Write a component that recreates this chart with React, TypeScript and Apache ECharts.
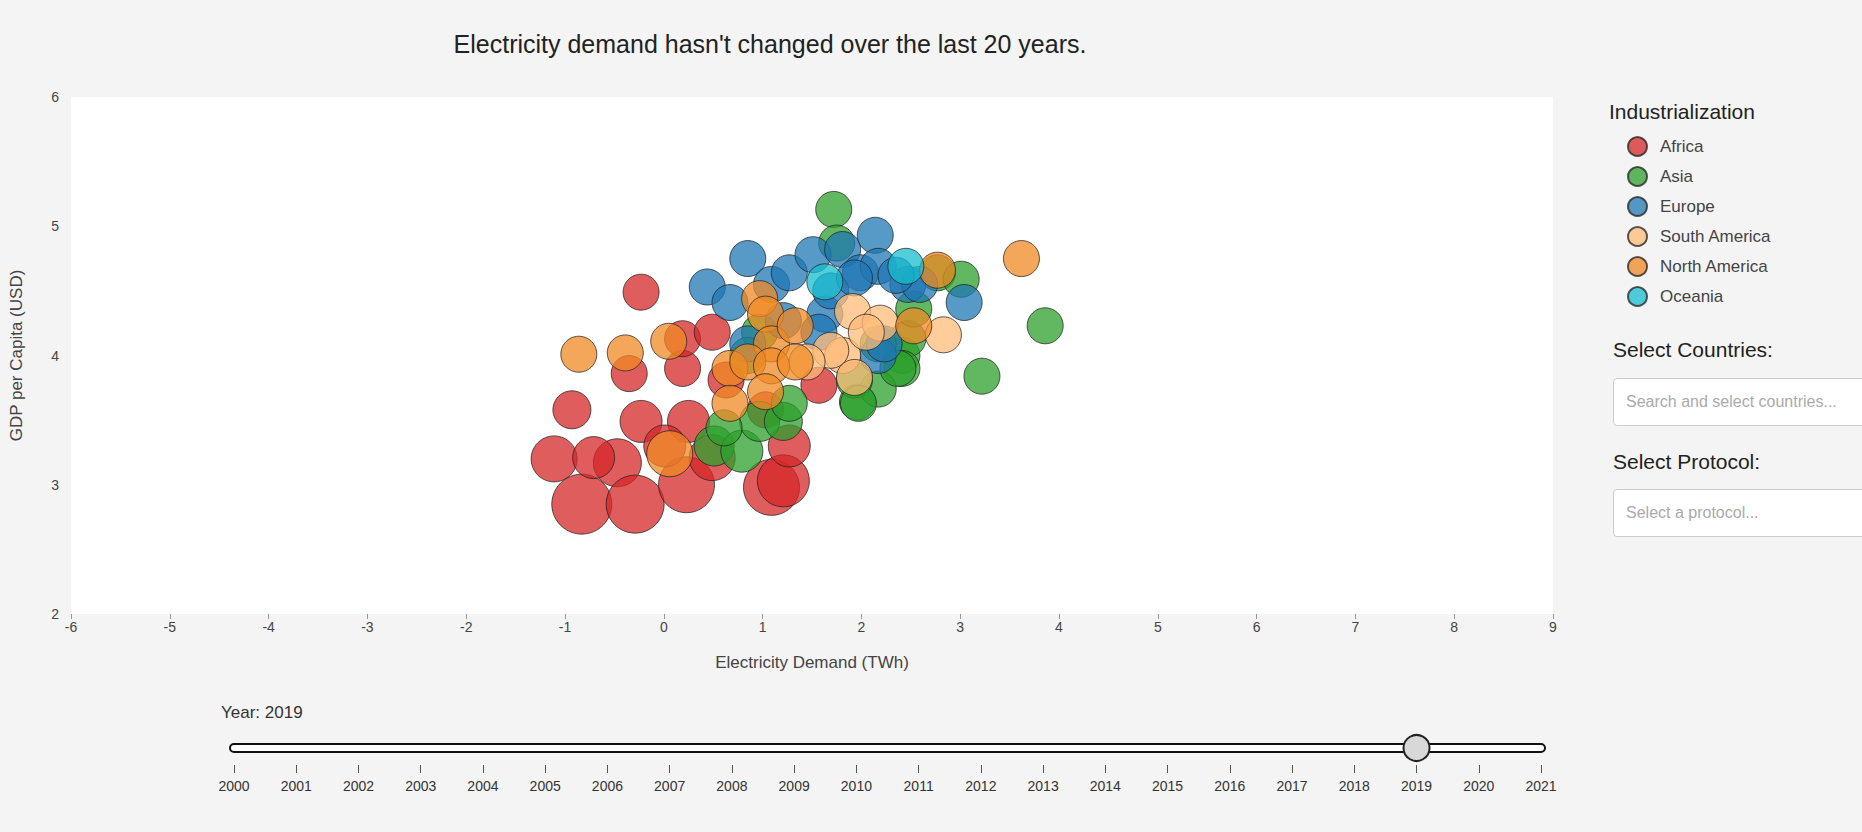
import React, { useEffect, useRef } from 'react';
import * as echarts from 'echarts';

// [electricity demand, gdp per capita, bubble size]
const africa = [
    [-0.23, 4.49, 36], [-0.35, 3.86, 36], [0.19, 3.9, 36], [0.19, 4.13, 36], [0.49, 4.18, 36],
    [-0.93, 3.58, 38], [-1.11, 3.2, 46], [-0.83, 2.85, 60], [-0.47, 3.17, 48], [-0.29, 2.85, 58],
    [-0.23, 3.49, 42], [0.25, 3.49, 42], [0.23, 3.0, 56], [0.49, 3.21, 46], [1.09, 2.98, 56],
    [1.21, 3.03, 52], [1.27, 3.3, 42], [1.57, 3.77, 36], [1.03, 3.58, 36], [0.63, 3.81, 36],
    [0.01, 3.3, 42], [-0.71, 3.21, 42],
];
const asia = [
    [1.72, 5.13, 36], [1.75, 4.87, 36], [2.77, 4.64, 36], [3.01, 4.59, 36], [3.86, 4.23, 36],
    [3.22, 3.84, 36], [2.41, 4.0, 36], [2.47, 4.13, 36], [2.53, 4.36, 36], [2.41, 3.9, 36],
    [2.17, 4.09, 36], [1.96, 3.64, 36], [2.17, 3.74, 36], [2.37, 3.9, 36], [0.51, 3.3, 40],
    [0.79, 3.26, 42], [0.97, 3.49, 40], [1.21, 3.49, 38], [1.27, 3.63, 36], [0.61, 3.44, 36],
    [0.97, 4.18, 36], [0.85, 4.0, 36], [1.93, 3.81, 36], [1.97, 3.63, 36],
];
const europe = [
    [0.44, 4.53, 36], [0.85, 4.75, 36], [0.67, 4.41, 36], [1.09, 4.55, 36], [1.27, 4.64, 36],
    [1.51, 4.78, 36], [1.81, 4.82, 36], [2.14, 4.93, 36], [1.99, 4.64, 36], [2.17, 4.69, 36],
    [2.47, 4.55, 36], [2.59, 4.55, 36], [3.04, 4.41, 36], [1.63, 4.32, 36], [1.57, 4.18, 36],
    [2.17, 4.0, 36], [2.23, 4.09, 36], [1.21, 4.27, 36], [0.85, 4.09, 36], [1.69, 4.5, 36],
    [1.93, 4.6, 36], [2.35, 4.62, 36],
];
const southAmerica = [
    [1.91, 4.34, 36], [2.19, 4.25, 36], [2.83, 4.16, 36], [1.81, 4.0, 36], [1.93, 3.83, 36],
    [1.69, 4.04, 36], [1.45, 3.95, 36], [2.05, 4.18, 36],
];
const northAmerica = [
    [-0.86, 4.01, 36], [-0.39, 4.02, 36], [0.05, 4.11, 36], [3.62, 4.75, 36], [2.77, 4.66, 36],
    [2.53, 4.23, 36], [0.06, 3.24, 46], [0.97, 4.44, 36], [1.03, 4.32, 36], [1.09, 4.09, 36],
    [1.33, 4.23, 36], [0.67, 3.9, 36], [0.85, 3.95, 36], [1.09, 3.92, 36], [1.33, 3.95, 36],
    [0.67, 3.63, 36], [1.03, 3.72, 36],
];
const oceania = [[1.63, 4.57, 36], [2.45, 4.69, 36]];

const regions = ['Africa', 'Asia', 'Europe', 'South America', 'North America', 'Oceania'];
const regionData = [africa, asia, europe, southAmerica, northAmerica, oceania];
const colors = ['#d62728', '#2ca02c', '#1f77b4', '#ffbb78', '#f08a24', '#17becf'];
const yearMin = 2000;
const yearMax = 2021;
const currentYear = 2019;

const font = '"Liberation Sans", Arial, sans-serif';

const App: React.FC = () => {
    const chartRef = useRef<HTMLDivElement>(null);

    useEffect(() => {
        if (!chartRef.current) return;
        const chart = echarts.init(chartRef.current, undefined, { renderer: 'svg' });
        const sliderLeft = 234;
        const sliderWidth = 1307;
        const handleX = sliderLeft + ((currentYear - yearMin) / (yearMax - yearMin)) * sliderWidth;
        const options = {
            animation: false,
            backgroundColor: '#f4f4f4',
            textStyle: { fontFamily: font },
            title: {
                text: "Electricity demand hasn't changed over the last 20 years.",
                left: 765,
                textAlign: 'center',
                top: 26,
                textStyle: { fontSize: 25, fontWeight: 'normal', color: '#222', fontFamily: font },
            },
            legend: {
                data: regions,
                orient: 'vertical',
                left: 1622,
                top: 131,
                itemGap: 9,
                itemWidth: 19,
                itemHeight: 19,
                icon: 'circle',
                textStyle: { fontSize: 17, color: '#444', fontFamily: font, padding: [0, 0, 0, 8] },
            },
            graphic: [
                {
                    type: 'text', left: 1609, top: 101,
                    style: { text: 'Industrialization', fontSize: 21, fill: '#222', fontFamily: font },
                },
                {
                    type: 'text', left: 221, top: 704,
                    style: { text: 'Year: ' + currentYear, fontSize: 17, fill: '#333', fontFamily: font },
                },
                {
                    type: 'rect',
                    shape: { x: sliderLeft - 4, y: 744, width: sliderWidth + 8, height: 8, r: 4 },
                    style: { fill: '#fff', stroke: '#111', lineWidth: 2 },
                },
                {
                    type: 'circle',
                    shape: { cx: handleX, cy: 748, r: 13 },
                    style: { fill: '#d8d8d8', stroke: '#222', lineWidth: 2 },
                },
            ],
            grid: [
                {
                    left: 71, top: 97, width: 1482, height: 517,
                    show: true, backgroundColor: '#fff', borderWidth: 0,
                },
                { left: sliderLeft, top: 764, width: sliderWidth, height: 1 },
            ],
            xAxis: [
                {
                    type: 'value', gridIndex: 0, min: -6, max: 9, interval: 1,
                    name: 'Electricity Demand (TWh)', nameLocation: 'middle', nameGap: 40,
                    nameTextStyle: { fontSize: 17, color: '#444', fontFamily: font },
                    axisLine: { show: false },
                    axisTick: { show: true, length: 5, lineStyle: { color: '#999' } },
                    axisLabel: { fontSize: 14, color: '#444', margin: 6 },
                    splitLine: { show: false },
                },
                {
                    type: 'value', gridIndex: 1, min: yearMin, max: yearMax, interval: 1,
                    axisLine: { show: false },
                    axisTick: { show: true, length: 8, lineStyle: { color: '#555' } },
                    axisLabel: { fontSize: 14, color: '#333', margin: 14, formatter: (v: number) => String(v) },
                    splitLine: { show: false },
                },
            ],
            yAxis: [
                {
                    type: 'value', gridIndex: 0, min: 2, max: 6, interval: 1,
                    name: 'GDP per Capita (USD)', nameLocation: 'middle', nameGap: 46,
                    nameTextStyle: { fontSize: 17, color: '#444', fontFamily: font },
                    axisLine: { show: false },
                    axisTick: { show: false },
                    axisLabel: { fontSize: 14, color: '#444', margin: 12 },
                    splitLine: { show: false },
                },
                { type: 'value', gridIndex: 1, show: false },
            ],
            series: regions.map((name, i) => ({
                name,
                type: 'scatter',
                xAxisIndex: 0,
                yAxisIndex: 0,
                data: regionData[i],
                symbolSize: (d: number[]) => d[2],
                itemStyle: { color: colors[i], opacity: 0.75, borderColor: '#222', borderWidth: 1 },
            })),
        };
        chart.setOption(options as any);
        return () => chart.dispose();
    }, []);

    const labelStyle: React.CSSProperties = {
        position: 'absolute', left: 1613, fontSize: 21, color: '#222', fontFamily: font,
    };
    const boxStyle: React.CSSProperties = {
        position: 'absolute', left: 1613, width: 300, height: 48, boxSizing: 'border-box',
        background: '#fff', border: '1px solid #ccc', borderRadius: 4, padding: '0 0 0 12px',
        fontSize: 16, fontFamily: font, color: '#aaa', lineHeight: '46px', whiteSpace: 'nowrap',
    };

    return (
        <div style={{ position: 'absolute', left: 0, top: 0, width: 1862, height: 832, overflow: 'hidden' }}>
            <div ref={chartRef} style={{ position: 'absolute', left: 0, top: 0, width: 1862, height: 832 }} />
            <div style={{ ...labelStyle, top: 338 }}>Select Countries:</div>
            <div style={{ ...boxStyle, top: 378 }}>Search and select countries...</div>
            <div style={{ ...labelStyle, top: 450 }}>Select Protocol:</div>
            <div style={{ ...boxStyle, top: 489 }}>Select a protocol...</div>
        </div>
    );
};

export default App;
